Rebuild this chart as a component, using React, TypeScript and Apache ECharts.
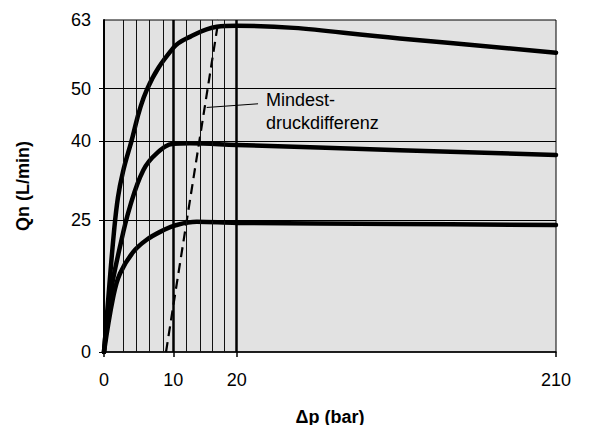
import React, { useEffect, useRef } from "react";
import * as echarts from "echarts";

// Broken x-axis: real Δp breakpoints and their display positions
const axisBreaksReal = [0, 10, 20, 210];
const axisBreaksDisp = [0, 69.3, 132.7, 452];

const xTickValues = [0, 10, 20, 210];
const yTickValues = [0, 25, 40, 50, 63];
const yTickMarks = [0, 25, 40, 50];
const thinGridX = [2.8, 4.6, 6.6, 8.5, 12.1, 14.2, 16.2, 18.1];
const thickGridX = [10, 20];
const gridY = [25, 40, 50];

// Curve 63 L/min
const curve63P = [0, 0.72, 1.44, 2.02, 2.74, 3.75, 6.16, 10, 12.63, 16.85, 20, 117, 210];
const curve63Q = [0, 11.8, 22.8, 29.4, 34.2, 39.0, 49.7, 57.7, 59.8, 61.7, 61.9, 59.5, 56.8];
// Curve 40 L/min
const curve40P = [0, 0.87, 2.31, 3.75, 5.67, 7.6, 10, 12.63, 20, 117, 210];
const curve40Q = [0, 10.5, 20.0, 27.6, 34.5, 37.7, 39.5, 39.6, 39.3, 38.3, 37.4];
// Curve 25 L/min
const curve25P = [0, 1.34, 2.31, 4.23, 6.16, 8.56, 10.5, 13.7, 20, 117, 210];
const curve25Q = [0, 10.5, 14.9, 19.0, 21.3, 23.1, 24.1, 24.7, 24.5, 24.3, 24.1];
// Mindestdruckdifferenz (dashed)
const minDiffP = [8.95, 10, 17.13];
const minDiffQ = [0, 8.8, 63];
// Leader line for annotation
const leaderP = [15.27, 32.7];
const leaderQ = [46.4, 47.1];

const annotationText = "Mindest-\ndruckdifferenz";

function toDisp(p: number): number {
  for (let i = 1; i < axisBreaksReal.length; i++) {
    if (p <= axisBreaksReal[i] || i === axisBreaksReal.length - 1) {
      const r0 = axisBreaksReal[i - 1], r1 = axisBreaksReal[i];
      const d0 = axisBreaksDisp[i - 1], d1 = axisBreaksDisp[i];
      return d0 + ((p - r0) / (r1 - r0)) * (d1 - d0);
    }
  }
  return p;
}
function fromDisp(d: number): number {
  for (let i = 1; i < axisBreaksDisp.length; i++) {
    if (d <= axisBreaksDisp[i] + 1e-6 || i === axisBreaksDisp.length - 1) {
      const r0 = axisBreaksReal[i - 1], r1 = axisBreaksReal[i];
      const d0 = axisBreaksDisp[i - 1], d1 = axisBreaksDisp[i];
      return r0 + ((d - d0) / (d1 - d0)) * (r1 - r0);
    }
  }
  return d;
}
const pairs = (ps: number[], qs: number[]) => ps.map((p, i) => [toDisp(p), qs[i]]);

const FONT = "'Liberation Sans', Arial, sans-serif";

export default function App() {
  const ref = useRef<HTMLDivElement>(null);
  useEffect(() => {
    if (!ref.current) return;
    const chart = echarts.init(ref.current, undefined, { renderer: "svg" });
    const curveStyle = { color: "#000", width: 4.5, cap: "round", join: "round" };
    chart.setOption({
      animation: false,
      textStyle: { fontFamily: FONT },
      grid: {
        left: 104,
        right: 33,
        top: 20,
        bottom: 81,
        show: true,
        backgroundColor: "#e2e2e2",
        borderColor: "#000",
        borderWidth: 1,
        outerBoundsMode: "none",
      },
      xAxis: {
        type: "value",
        min: 0,
        max: axisBreaksDisp[axisBreaksDisp.length - 1],
        name: "\u0394p (bar)",
        nameLocation: "middle",
        nameGap: 56,
        nameTextStyle: { fontFamily: FONT, fontSize: 18, fontWeight: "bold", color: "#000" },
        axisLine: { lineStyle: { color: "#000", width: 1.5 } },
        axisTick: { show: true, length: 5, customValues: xTickValues.map(toDisp), lineStyle: { color: "#000", width: 1.5 } },
        axisLabel: {
          customValues: xTickValues.map(toDisp),
          formatter: (v: number) => String(Math.round(fromDisp(v))),
          fontFamily: FONT,
          fontSize: 18,
          color: "#000",
          margin: 19,
        },
        splitLine: { show: false },
      },
      yAxis: {
        type: "value",
        min: 0,
        max: 63,
        name: "Qn (L/min)",
        nameLocation: "middle",
        nameRotate: 90,
        nameGap: 72,
        nameTextStyle: { fontFamily: FONT, fontSize: 18, fontWeight: "bold", color: "#000" },
        axisLine: { show: true, lineStyle: { color: "#000", width: 2 } },
        axisTick: { show: true, length: 5, customValues: yTickMarks, lineStyle: { color: "#000", width: 1 } },
        axisLabel: {
          customValues: yTickValues,
          fontFamily: FONT,
          fontSize: 18,
          color: "#000",
          margin: 13,
        },
        splitLine: { show: false },
      },
      series: [
        {
          type: "line",
          data: [],
          silent: true,
          z: 1,
          markLine: {
            silent: true,
            symbol: "none",
            label: { show: false },
            animation: false,
            data: [
              ...thinGridX.map((p) => ({ xAxis: toDisp(p), lineStyle: { color: "#111", width: 1, type: "solid" } })),
              ...thickGridX.map((p) => ({ xAxis: toDisp(p), lineStyle: { color: "#000", width: 2.5, type: "solid" } })),
              ...gridY.map((q) => ({ yAxis: q, lineStyle: { color: "#000", width: 1, type: "solid" } })),
            ],
          },
        },
        {
          type: "line",
          data: pairs(curve63P, curve63Q),
          smooth: 0.4,
          showSymbol: false,
          lineStyle: curveStyle,
          z: 3,
        },
        {
          type: "line",
          data: pairs(curve40P, curve40Q),
          smooth: 0.4,
          showSymbol: false,
          lineStyle: curveStyle,
          z: 3,
        },
        {
          type: "line",
          data: pairs(curve25P, curve25Q),
          smooth: 0.4,
          showSymbol: false,
          lineStyle: curveStyle,
          z: 3,
        },
        {
          type: "line",
          data: pairs(minDiffP, minDiffQ),
          showSymbol: false,
          lineStyle: { color: "#000", width: 2.2, type: [10, 6] },
          z: 4,
        },
        {
          type: "line",
          data: pairs(leaderP, leaderQ),
          showSymbol: false,
          lineStyle: { color: "#000", width: 1 },
          z: 4,
        },
      ],
      graphic: [
        {
          type: "text",
          left: 266,
          top: 88,
          z: 10,
          style: {
            text: annotationText,
            fontFamily: FONT,
            fontSize: 18,
            lineHeight: 23,
            fill: "#000",
          },
        },
      ],
    });
    return () => chart.dispose();
  }, []);
  return <div ref={ref} style={{ width: 589, height: 433, margin: -8 }} />;
}
